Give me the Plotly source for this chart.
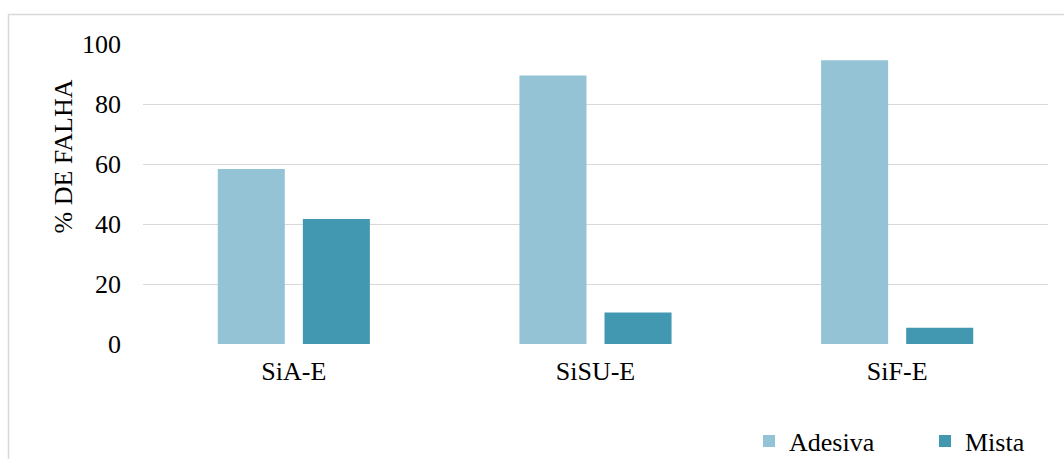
import plotly.graph_objects as go

# Failure mode percentages per adhesive system
categories = ["SiA-E", "SiSU-E", "SiF-E"]
adesiva = [58.3, 89.5, 94.6]
mista = [41.7, 10.5, 5.4]
y_ticks = [0, 20, 40, 60, 80, 100]

FONT = "Times New Roman, Liberation Serif, serif"
W, H = 1064, 459
L, R, T, B = 143, 16, 43, 114
PW, PH = W - L - R, H - T - B


def cx(x):
    return x / W


def cy(y):
    return 1 - y / H


def px_x(x):
    return (x - L) / PW


def px_y(y):
    return (H - B - y) / PH


fig = go.Figure()
fig.add_trace(go.Bar(name="Adesiva", x=categories, y=adesiva,
                     marker=dict(color="#93C3D4", line=dict(width=0))))
fig.add_trace(go.Bar(name="Mista", x=categories, y=mista,
                     marker=dict(color="#4298B0", line=dict(width=0))))

fig.update_layout(
    width=W, height=H,
    margin=dict(l=L, r=R, t=T, b=B, pad=0, autoexpand=False),
    paper_bgcolor="white", plot_bgcolor="white",
    barmode="group", bargap=0.436, bargroupgap=0.212,
    font=dict(family=FONT, size=26, color="#000000"),
    showlegend=True,
    legend=dict(orientation="h", xref="container", yref="container",
                x=cx(749), y=cy(441), xanchor="left", yanchor="middle",
                entrywidth=131, entrywidthmode="pixels",
                font=dict(family=FONT, size=26), bgcolor="rgba(0,0,0,0)", traceorder="normal"),
    xaxis=dict(showgrid=False, showline=False, zeroline=False, ticks="",
               tickfont=dict(family=FONT, size=26), ticklabelstandoff=8, automargin=False),
    yaxis=dict(range=[-1 / 3, 100 + 1 / 3], tickvals=y_ticks, showgrid=True, gridcolor="#d9d9d9",
               gridwidth=1.4, zeroline=False, showline=False, ticks="",
               tickfont=dict(family=FONT, size=26), ticklabelstandoff=21, automargin=False),
    annotations=[dict(text="% DE FALHA", textangle=-90, xref="paper", yref="paper",
                      x=px_x(63), y=px_y(156.5), xanchor="center", yanchor="middle",
                      showarrow=False, font=dict(family=FONT, size=26))],
    shapes=[
        dict(type="line", xref="paper", yref="paper", x0=px_x(8.5), x1=px_x(8.5),
             y0=px_y(14), y1=px_y(470), line=dict(color="#d9d9d9", width=1.5)),
        dict(type="line", xref="paper", yref="paper", x0=px_x(8.5), x1=px_x(1080),
             y0=px_y(14.5), y1=px_y(14.5), line=dict(color="#d9d9d9", width=1.5)),
    ],
)

fig.write_html("out.html")
